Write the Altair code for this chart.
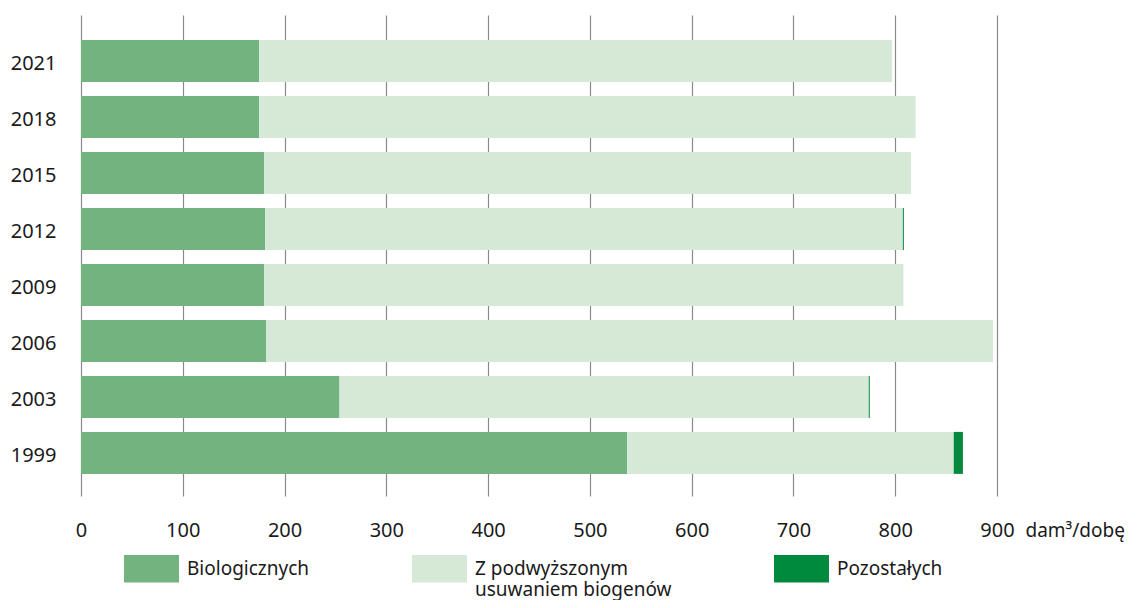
import altair as alt
import pandas as pd

years = ["2021", "2018", "2015", "2012", "2009", "2006", "2003", "1999"]
biologiczne = [175, 175, 180, 181, 180, 182, 254, 536.5]
podwyzszone = [622, 645, 635.5, 626.5, 628, 714, 520, 321]
pozostale = [0, 0, 0, 1, 0, 0, 1, 9]

series = ["Biologicznych|", "Z podwyższonym|usuwaniem biogenów", "Pozostałych|"]
colors = ["#72B37F", "#D6E9D6", "#008A3E"]

rows = []
for i, y in enumerate(years):
    for k, (name, vals) in enumerate(zip(series, [biologiczne, podwyzszone, pozostale])):
        rows.append({"rok": y, "seria": name, "wartosc": vals[i], "kolejnosc": k})
df = pd.DataFrame(rows)

FONT = "Noto Sans"

chart = alt.Chart(df).mark_bar().encode(
    y=alt.Y("rok:N", sort=years,
            scale=alt.Scale(paddingInner=0.25, paddingOuter=0.42, align=0.53),
            axis=alt.Axis(title=None, domain=False, ticks=False, labelPadding=25,
                          labelOffset=3,
                          labelFontSize=20, labelFont=FONT, labelColor="#1a1a1a", grid=False)),
    x=alt.X("wartosc:Q", stack="zero",
            scale=alt.Scale(domain=[0, 900], nice=False),
            axis=alt.Axis(values=list(range(0, 1000, 100)), title="dam³/dobę",
                          domain=False, ticks=False, labelPadding=24, labelFontSize=20,
                          labelFlush=False,
                          labelFont=FONT, labelColor="#1a1a1a", grid=True,
                          gridColor="#8a8a8a", gridWidth=1.2,
                          titleFont=FONT, titleFontSize=19, titleFontWeight="normal",
                          titleColor="#1a1a1a", titleAlign="left", titleAnchor="start",
                          titleBaseline="top", titleX=944, titleY=25)),
    color=alt.Color("seria:N", sort=series,
                    scale=alt.Scale(domain=series, range=colors),
                    legend=alt.Legend(title=None, orient="none", legendX=43, legendY=526,
                                      direction="horizontal", columns=3, columnPadding=102,
                                      symbolType="M-1,-0.5H1V0.5H-1Z", symbolSize=3025,
                                      symbolStrokeWidth=0, symbolOpacity=1, labelOffset=8,
                                      labelFont=FONT, labelFontSize=19, labelColor="#1a1a1a",
                                      labelBaseline="middle", labelLimit=400, padding=0,
                                      labelExpr="split(datum.label, '|')")),
    order=alt.Order("kolejnosc:Q"),
).properties(
    width=916, height=481,
    autosize=alt.AutoSizeParams(type="none"),
    padding={"left": 73, "top": 7, "right": 133, "bottom": 104},
).configure_view(stroke=None)

chart.save("out.html", embed_options={"renderer": "svg", "actions": False})
